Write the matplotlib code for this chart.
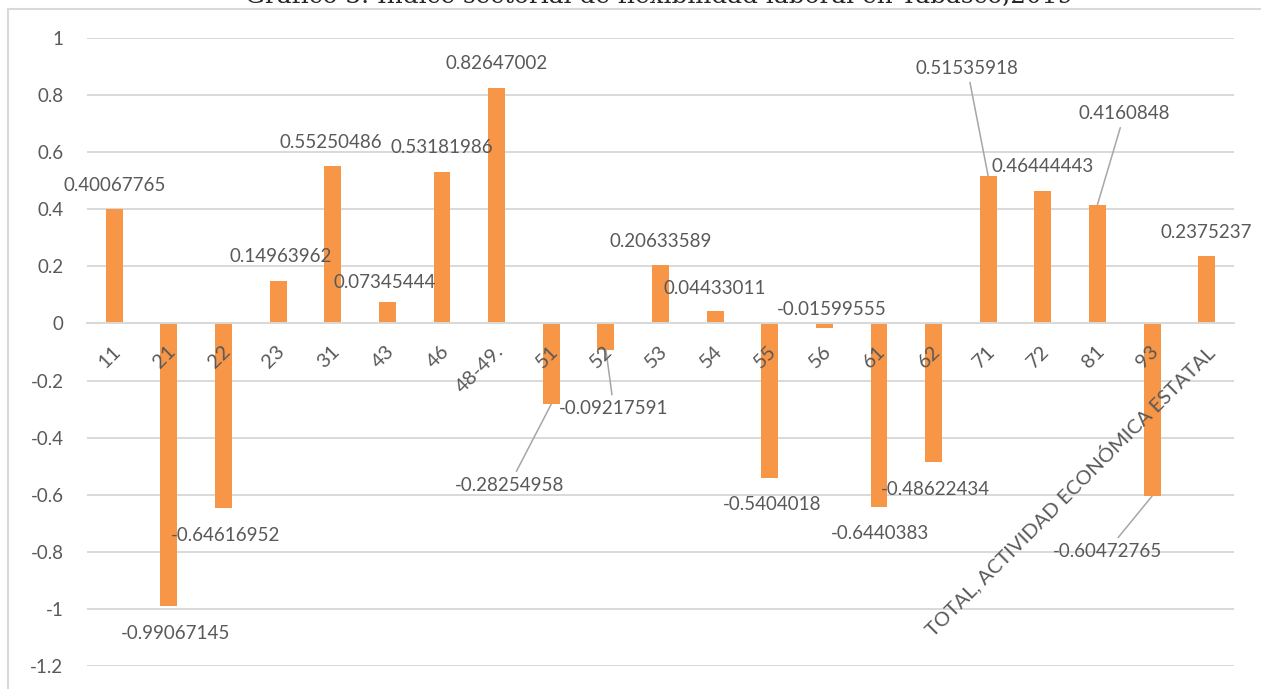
import matplotlib
matplotlib.use("Agg")
import matplotlib.pyplot as plt
from matplotlib.patches import Rectangle
import numpy as np

# data
categories = ['11', '21', '22', '23', '31', '43', '46', '48-49.', '51', '52', '53',
              '54', '55', '56', '61', '62', '71', '72', '81', '93',
              'TOTAL, ACTIVIDAD ECONÓMICA ESTATAL']
values = [0.40067765, -0.99067145, -0.64616952, 0.14963962, 0.55250486, 0.07345444,
          0.53181986, 0.82647002, -0.28254958, -0.09217591, 0.20633589, 0.04433011,
          -0.5404018, -0.01599555, -0.6440383, -0.48622434, 0.51535918, 0.46444443,
          0.4160848, -0.60472765, 0.2375237]
title = 'Gráfico 3. Índice sectorial de flexibilidad laboral en Tabasco,2019'

# label placement (pixel offsets from bar end) and which ones have a leader line
label_offsets = [(0, 24), (7, -27), (2, -28), (3, 24), (-2, 23), (-3, 20), (0, 24),
                 (0, 24), (-42, -81), (8, -59), (0, 23), (0, 22), (2, -27), (7, 19),
                 (1, -26), (2, -27), (-21, 108), (0, 24), (27, 91), (-45, -55), (0, 23)]
leaders = [8, 9, 16, 18, 19]

plt.rcParams['font.family'] = ['Lato', 'DejaVu Sans']
text_col = '#595959'
grid_col = '#D9D9D9'

W, H = 1261, 689
fig = plt.figure(figsize=(W / 100, H / 100), dpi=100)
ax = fig.add_axes([87 / W, 1 - 666 / H, (1234 - 87) / W, (666 - 38) / H])

x = np.arange(len(categories))
ax.bar(x, values, width=0.31, color='#F79646', zorder=2)

ax.set_xlim(-0.5, len(categories) - 0.5)
ax.set_ylim(-1.2, 1.0)
yt = np.round(np.arange(-1.2, 1.01, 0.2), 1) + 0.0
ax.set_yticks(yt)
ax.set_yticklabels([f'{v:g}' if abs(v) > 1e-9 else '0' for v in yt])
ax.yaxis.grid(True, color=grid_col, lw=1.4)
ax.set_axisbelow(True)

for s in ['top', 'right', 'left']:
    ax.spines[s].set_visible(False)
ax.spines['bottom'].set_position(('data', 0))
ax.spines['bottom'].set_color(grid_col)
ax.spines['bottom'].set_linewidth(1.4)

ax.set_xticks(x)
ax.set_xticklabels([])
ax.tick_params(axis='x', length=0)
ax.tick_params(axis='y', length=0, pad=17, labelsize=13.5, labelcolor=text_col)

# category labels next to the zero line, drawn over the bars
for i, cat in enumerate(categories):
    ax.annotate(cat, xy=(i, 0), xytext=(4, -25), textcoords='offset pixels',
                rotation=45, ha='right', va='center', rotation_mode='anchor',
                fontsize=14.5, color=text_col, zorder=4)

# data labels
for i, v in enumerate(values):
    dx, dy = label_offsets[i]
    props = None
    if i in leaders:
        props = dict(arrowstyle='-', color='#A6A6A6', lw=1.1, shrinkA=2, shrinkB=0)
    ax.annotate(f'{v}', xy=(i, v), xytext=(dx, dy), textcoords='offset pixels',
                ha='center', va='center', fontsize=13.5, color=text_col,
                arrowprops=props, zorder=3)

# chart frame (extends past the right and bottom of the picture)
fig.add_artist(Rectangle((8 / W, -0.1), 1.2, 1 - 9 / H + 0.1,
                         transform=fig.transFigure, fill=False,
                         edgecolor=grid_col, lw=1.5))

# title, mostly cut off at the top like in the original
fig.text(659 / W, 1 - 3 / H, title, ha='center', va='baseline', fontsize=17.8,
         family='DejaVu Serif', color='#262626')

fig.savefig('out.png', dpi=100)
